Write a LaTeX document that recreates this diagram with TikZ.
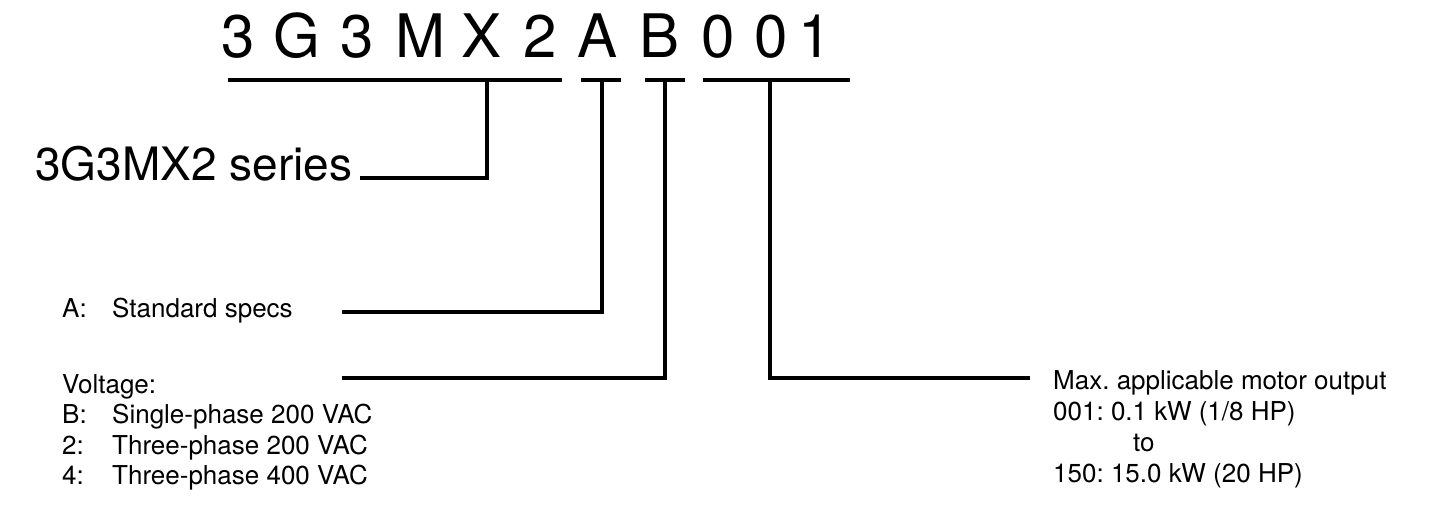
\documentclass[tikz,border=0pt]{standalone}
\usepackage{fontspec}
\setmainfont{TeX Gyre Heros}
\usetikzlibrary{positioning}
\frenchspacing

\begin{document}
\begin{tikzpicture}[x=1pt,y=-1pt,line cap=butt,
  codechar/.style={anchor=base,inner sep=0pt,font=\fontsize{60}{60}\selectfont},
  lbl/.style={anchor=base west,inner sep=0pt,font=\fontsize{26}{31}\selectfont},
  bar/.style={line width=3.5pt}]
\useasboundingbox (0,0) rectangle (1454,517);
% model number, one node per character
\foreach \ch/\xx [count=\i] in {3/238,G/297,3/357,M/420,X/482,2/540,A/598,B/660,0/718,0/771,1/815}
  \node[codechar] (c\i) at (\xx,57) {\ch};
% underlines
\coordinate (ul1a) at (228,80);  \coordinate (ul1b) at (562,80);
\coordinate (ulAa) at (581,80);  \coordinate (ulAb) at (621,80);
\coordinate (ulBa) at (645,80);  \coordinate (ulBb) at (685,80);
\coordinate (ulCa) at (703,80);  \coordinate (ulCb) at (850,80);
\draw[bar] (ul1a) -- (ul1b);
\draw[bar] (ulAa) -- (ulAb);
\draw[bar] (ulBa) -- (ulBb);
\draw[bar] (ulCa) -- (ulCb);
% labels
\node[lbl,font=\fontsize{46}{46}\selectfont] (series) at (35,180) {3G3MX2 series};
\node[lbl] (keyA) at (62,317) {A:};
\node[lbl] (specA) at (112,317) {Standard specs};
\node[lbl] (volt) at (62,393) {Voltage:};
\node[lbl] (keyB) at (62,423) {B:};
\node[lbl] (voltB) at (112,423) {Single-phase 200 VAC};
\node[lbl] (key2) at (62,454) {2:};
\node[lbl] (volt2) at (112,454) {Three-phase 200 VAC};
\node[lbl] (key4) at (62,484) {4:};
\node[lbl] (volt4) at (112,484) {Three-phase 400 VAC};
\node[lbl] (maxout) at (1053,389) {Max. applicable motor output};
\node[lbl] (out1) at (1053,420) {001: 0.1 kW (1/8 HP)};
\node[lbl] (outto) at (1133,451) {to};
\node[lbl] (out2) at (1053,482) {150: 15.0 kW (20 HP)};
% leader lines
\coordinate (topS) at (487,80);  \coordinate (endS) at (360,178);
\coordinate (topA) at (602,80);  \coordinate (endA) at (342,312);
\coordinate (topB) at (665,80);  \coordinate (endB) at (342,378);
\coordinate (topC) at (770,80);  \coordinate (endC) at (1030,378);
\draw[bar] (topS) |- (endS);
\draw[bar] (topA) |- (endA);
\draw[bar] (topB) |- (endB);
\draw[bar] (topC) |- (endC);
\end{tikzpicture}
\end{document}
